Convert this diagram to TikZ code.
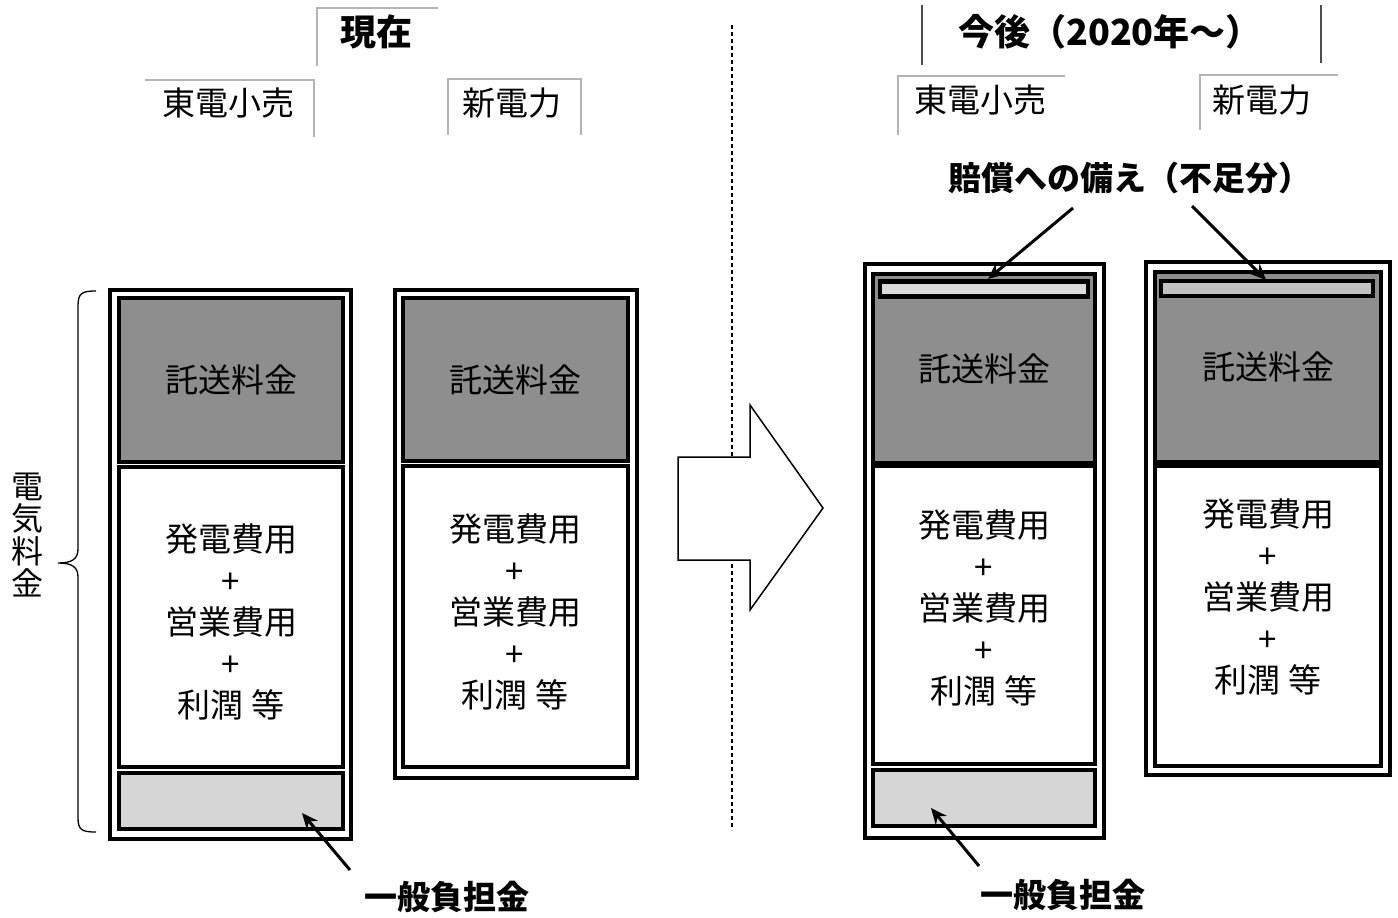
\documentclass[tikz,border=0pt]{standalone}
\usepackage{fontspec}
\newfontfamily\jp{Noto Sans CJK JP}
\usetikzlibrary{arrows.meta}
\definecolor{tgray}{HTML}{8E8E8E}
\definecolor{lgray}{HTML}{D6D6D6}
\definecolor{sgray}{HTML}{DADADA}
\definecolor{tabgray}{HTML}{B4B4B4}
\begin{document}
\begin{tikzpicture}[x=1pt,y=-1pt,
  every node/.style={inner sep=0pt, outer sep=0pt},
  outerbox/.style={draw, line width=3.2pt, fill=white},
  tbox/.style={draw, line width=3.2pt, fill=tgray, font=\jp\fontsize{33}{33}\selectfont},
  wbox/.style={draw, line width=3.2pt, fill=white},
  lbox/.style={draw, line width=3.2pt, fill=lgray},
  stripe/.style={draw, line width=4.5pt, fill=sgray},
  body/.style={font=\jp\fontsize{33}{41.5}\selectfont, align=center},
  head/.style={font=\jp\fontsize{33}{33}\selectfont},
  bighead/.style={font=\jp\bfseries\fontsize{36}{36}\selectfont},
  callout/.style={font=\jp\bfseries\fontsize{33}{33}\selectfont},
  tabline/.style={draw=tabgray, line width=1.6pt},
  darktab/.style={draw=black!70, line width=1.3pt},
  ptr/.style={line width=3pt, -{Stealth[length=16pt,width=14pt]}}
]
\useasboundingbox (0,0) rectangle (1398,918);

% dashed divider
\coordinate (dtop) at (732,25);
\coordinate (dbot) at (732,830);
\draw[line width=1.1pt, dash pattern=on 4pt off 3pt] (dtop) -- (dbot);

% big arrow
\draw[line width=1.5pt, fill=white, line join=miter]
  (678,457) -- (750,457) -- (750,405) -- (823,508) -- (750,610) -- (750,560) -- (678,560) -- cycle;

% headers
\node[bighead] (hnow) at (376,32) {現在};
\draw[tabline] (317,66) -- (317,8) -- (438,8);
\node[head] (hl1) at (228,103) {東電小売};
\draw[tabline] (145,80) -- (314,80) -- (314,137);
\node[head] (hl2) at (512,103) {新電力};
\draw[tabline] (448,135) -- (448,79) -- (581,79) -- (581,135);

\node[bighead] (hfut) at (1110,32) {今後（2020年～）};
\draw[darktab] (922,5) -- (922,65);
\draw[darktab] (1321,5) -- (1321,63);
\node[head] (hr1) at (980,100) {東電小売};
\draw[tabline] (898,135) -- (898,76) -- (1065,76);
\node[head] (hr2) at (1262,100) {新電力};
\draw[tabline] (1200,130) -- (1200,75) -- (1338,75);

% column 1
\node[outerbox, minimum width=241pt, minimum height=549pt] (o1) at (230.5,564.5) {};
\node[tbox, minimum width=224pt, minimum height=164pt] (g1) at (231,380) {託送料金};
\node[wbox, minimum width=224pt, minimum height=300pt] (w1) at (231,617) {};
\node[body] (t1) at (231,622) {発電費用\\+\\営業費用\\+\\利潤 等};
\node[lbox, minimum width=224pt, minimum height=56pt] (b1) at (231,801) {};

% column 2
\node[outerbox, minimum width=242pt, minimum height=488pt] (o2) at (516,534) {};
\node[tbox, minimum width=225pt, minimum height=163pt] (g2) at (515.5,379.5) {託送料金};
\node[wbox, minimum width=225pt, minimum height=301pt] (w2) at (515.5,616.5) {};
\node[body] (t2) at (515,612) {発電費用\\+\\営業費用\\+\\利潤 等};

% column 3
\node[outerbox, minimum width=239pt, minimum height=574pt] (o3) at (984.5,551) {};
\node[tbox, minimum width=222pt, minimum height=189pt] (g3) at (984,368.5) {託送料金};
\node[stripe, minimum width=208pt, minimum height=15pt] (s3) at (984,289) {};
\node[wbox, minimum width=222pt, minimum height=298pt] (w3) at (984,615) {};
\node[body] (t3) at (984,608) {発電費用\\+\\営業費用\\+\\利潤 等};
\node[lbox, minimum width=222pt, minimum height=56pt] (b3) at (984,798) {};

% column 4
\node[outerbox, minimum width=244pt, minimum height=513pt] (o4) at (1268,518.5) {};
\node[tbox, minimum width=226pt, minimum height=190pt] (g4) at (1268,367) {託送料金};
\node[stripe, fill=lgray!90!black, minimum width=212pt, minimum height=15pt] (s4) at (1267,288.5) {};
\node[wbox, minimum width=226pt, minimum height=300pt] (w4) at (1268,616) {};
\node[body] (t4) at (1268,597) {発電費用\\+\\営業費用\\+\\利潤 等};

% brace and vertical label
\draw[line width=1.3pt]
  (96,291) .. controls (82,291) and (78,293) .. (78,306) -- (78,549)
  .. controls (78,559) and (72,563) .. (58,563)
  .. controls (72,563) and (78,567) .. (78,577) -- (78,818)
  .. controls (78,830) and (82,832) .. (96,832);
\node[font=\jp\fontsize{32}{32.5}\selectfont, align=center] (vlab) at (27,535) {電\\気\\料\\金};

% callouts
\node[callout] (c1) at (447,897) {一般負担金};
\coordinate (c1s) at (350,870);
\coordinate (c1e) at (302,813);
\draw[ptr] (c1s) -- (c1e);

\node[callout] (c3) at (1063,895) {一般負担金};
\coordinate (c3s) at (979,866);
\coordinate (c3e) at (931,808);
\draw[ptr] (c3s) -- (c3e);

\node[callout] (cb) at (1130,178) {賠償への備え（不足分）};
\coordinate (cbs1) at (1073,208);
\coordinate (cbe1) at (988,279);
\draw[ptr] (cbs1) -- (cbe1);
\coordinate (cbs2) at (1192,206);
\coordinate (cbe2) at (1266,280);
\draw[ptr] (cbs2) -- (cbe2);
\end{tikzpicture}
\end{document}
